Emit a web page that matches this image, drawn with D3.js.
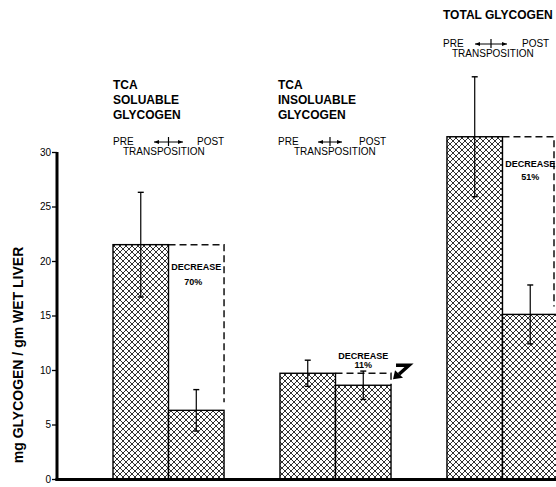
<!DOCTYPE html>
<html>
<head>
<meta charset="utf-8">
<script src="https://cdn.jsdelivr.net/npm/d3@7"></script>
<style>
  html, body { margin: 0; padding: 0; background: #fff; }
  svg { display: block; font-family: "Liberation Sans", Arial, Helvetica, sans-serif; }
</style>
</head>
<body>
<svg id="chart" width="556" height="487"></svg>
<script>
// ---- data ----
const groups = ["TCA SOLUABLE GLYCOGEN", "TCA INSOLUABLE GLYCOGEN", "TOTAL GLYCOGEN"];
const titleLines = [["TCA", "SOLUABLE", "GLYCOGEN"], ["TCA", "INSOLUABLE", "GLYCOGEN"], ["TOTAL GLYCOGEN"]];
const phases = ["PRE", "POST"];
const preValues = [21.5, 9.7, 31.4];
const postValues = [6.3, 8.6, 15.1];
const preErrors = [4.8, 1.2, 5.5];
const postErrors = [1.9, 1.3, 2.7];
const decreaseLabels = ["70%", "11%", "51%"];
const yTicks = [0, 5, 10, 15, 20, 25, 30];
const yTitle = "mg GLYCOGEN / gm WET LIVER";

// ---- layout ----
const svg = d3.select("#chart");
const axisX = 57, baseY = 479;
const y = d3.scaleLinear().domain([0, 30]).range([baseY, 152]);
const x = d3.scaleBand().domain(groups).range([113, 558]).paddingInner(0.335).paddingOuter(0);
const xi = d3.scaleBand().domain(phases).range([0, x.bandwidth()]);

// hatch pattern
const defs = svg.append("defs");
const pat = defs.append("pattern").attr("id", "hatch").attr("patternUnits", "userSpaceOnUse")
  .attr("width", 6).attr("height", 6);
pat.append("rect").attr("width", 6).attr("height", 6).attr("fill", "#fff");
pat.append("path").attr("d", "M0,0 L6,6 M6,0 L0,6 M-1,5 L1,7 M5,-1 L7,1 M-1,1 L1,-1 M5,7 L7,5")
  .attr("stroke", "#1a1a1a").attr("stroke-width", 0.9).attr("fill", "none");

const rows = groups.map((g, i) => ({
  g, i, pre: preValues[i], post: postValues[i], preE: preErrors[i], postE: postErrors[i], dec: decreaseLabels[i]
}));

// bars
const bars = [];
rows.forEach(r => {
  bars.push({ g: r.g, p: "PRE", v: r.pre, e: r.preE });
  bars.push({ g: r.g, p: "POST", v: r.post, e: r.postE });
});

// dashed decrease boxes
rows.forEach(r => {
  const x0 = x(r.g) + xi("POST");
  const x1 = x0 + xi.bandwidth() - (r.i === 2 ? 4 : 0);
  const yTop = y(r.pre);
  const yBot = r.i === 1 ? y(r.post) : y(r.post) - 8;
  svg.append("path")
    .attr("d", `M${x0},${yTop} L${x1},${yTop} L${x1},${yBot}`)
    .attr("fill", "none").attr("stroke", "#111").attr("stroke-width", 1.5)
    .attr("stroke-dasharray", "7,4");
});

svg.selectAll("rect.bar").data(bars).join("rect").attr("class", "bar")
  .attr("x", d => x(d.g) + xi(d.p))
  .attr("y", d => y(d.v))
  .attr("width", xi.bandwidth())
  .attr("height", d => baseY - y(d.v))
  .attr("fill", "url(#hatch)")
  .attr("stroke", "#000").attr("stroke-width", 1.4);

// error bars
const eb = svg.selectAll("g.err").data(bars).join("g").attr("class", "err")
  .attr("transform", d => `translate(${x(d.g) + xi(d.p) + xi.bandwidth() / 2},0)`);
eb.append("line").attr("y1", d => y(d.v - d.e)).attr("y2", d => y(d.v + d.e))
  .attr("stroke", "#000").attr("stroke-width", 1.2);
eb.append("line").attr("x1", -3).attr("x2", 3).attr("y1", d => y(d.v + d.e)).attr("y2", d => y(d.v + d.e))
  .attr("stroke", "#000").attr("stroke-width", 1.4);
eb.append("line").attr("x1", -3).attr("x2", 3).attr("y1", d => y(d.v - d.e)).attr("y2", d => y(d.v - d.e))
  .attr("stroke", "#000").attr("stroke-width", 1.4);

// decrease labels
rows.forEach(r => {
  const cx = x(r.g) + xi("POST") + xi.bandwidth() / 2;
  let b1, b2;
  if (r.i === 0) { b1 = y(r.pre) + 25; b2 = b1 + 15; }
  else if (r.i === 1) { b1 = y(r.pre) - 14; b2 = y(r.pre) - 5; }
  else { b1 = y(r.pre) + 30; b2 = b1 + 13; }
  svg.append("text").attr("x", cx).attr("y", b1).attr("text-anchor", "middle")
    .attr("font-size", 9).attr("font-weight", "bold").text("DECREASE");
  svg.append("text").attr("x", cx - (r.i === 0 ? 3 : 0)).attr("y", b2).attr("text-anchor", "middle")
    .attr("font-size", 9).attr("font-weight", "bold").text(r.dec);
});

// hook arrow next to insoluble box
{
  const r = rows[1];
  const ox = x(r.g) + xi("POST") + xi.bandwidth();
  const oy = y(r.pre);
  const g = svg.append("g").attr("transform", `translate(${ox},${oy})`);
  g.append("path").attr("d", "M5,-8 L18,-8 L8,1").attr("fill", "none")
    .attr("stroke", "#000").attr("stroke-width", 3.5).attr("stroke-linejoin", "miter");
  g.append("path").attr("d", "M2,6 L4,-3 L12,4.5 Z").attr("fill", "#000");
}

// axes
const yAxis = d3.axisLeft(y).tickValues(yTicks).tickSize(5).tickPadding(1).tickFormat(d3.format("d"));
const ag = svg.append("g").attr("transform", `translate(${axisX},0)`).call(yAxis);
ag.select(".domain").remove();
ag.selectAll(".tick line").attr("stroke", "#000").attr("stroke-width", 1.3);
ag.selectAll(".tick text").attr("font-size", 10).attr("fill", "#000")
  .attr("font-family", "'Liberation Sans', Arial, sans-serif");
svg.append("line").attr("x1", axisX).attr("x2", axisX).attr("y1", y(30)).attr("y2", baseY + 2)
  .attr("stroke", "#000").attr("stroke-width", 3);
svg.append("line").attr("x1", axisX - 1.5).attr("x2", 556).attr("y1", baseY + 0.5).attr("y2", baseY + 0.5)
  .attr("stroke", "#000").attr("stroke-width", 3);

// y title
svg.append("text").attr("transform", "translate(23,355) rotate(-90)")
  .attr("text-anchor", "middle").attr("font-size", 14).attr("font-weight", "bold")
  .text(yTitle);

// group titles
const titleX = [113, 278, 443];
const titleBase = [89, 89, 19];
const preRowOffset = [26, 26, 28];
const arrowRel = [[41, 70], [40, 64], [32, 64]];
const postRel = [84, 81, 79];
const transRel = [10, 16, 9];
rows.forEach(r => {
  const tx = titleX[r.i];
  const lines = titleLines[r.i];
  lines.forEach((ln, k) => {
    svg.append("text").attr("x", tx).attr("y", titleBase[r.i] + k * 15)
      .attr("font-size", 12).attr("font-weight", "bold").text(ln);
  });
  const pb = titleBase[r.i] + (lines.length - 1) * 15 + preRowOffset[r.i];
  svg.append("text").attr("x", tx).attr("y", pb).attr("font-size", 10).text("PRE");
  svg.append("text").attr("x", tx + postRel[r.i]).attr("y", pb).attr("font-size", 10).text("POST");
  svg.append("text").attr("x", tx + transRel[r.i]).attr("y", pb + 10).attr("font-size", 10).text("TRANSPOSITION");
  const a0 = tx + arrowRel[r.i][0], a1 = tx + arrowRel[r.i][1], am = (a0 + a1) / 2, ay = pb - 3;
  svg.append("line").attr("x1", a0).attr("x2", a1).attr("y1", ay).attr("y2", ay).attr("stroke", "#000").attr("stroke-width", 1);
  svg.append("line").attr("x1", am).attr("x2", am).attr("y1", ay - 5).attr("y2", ay + 4).attr("stroke", "#000").attr("stroke-width", 1.2);
  svg.append("path").attr("d", `M${a0},${ay} L${a0 + 5},${ay - 2} L${a0 + 5},${ay + 2} Z`).attr("fill", "#000");
  svg.append("path").attr("d", `M${a1},${ay} L${a1 - 5},${ay - 2} L${a1 - 5},${ay + 2} Z`).attr("fill", "#000");
});
</script>
</body>
</html>
